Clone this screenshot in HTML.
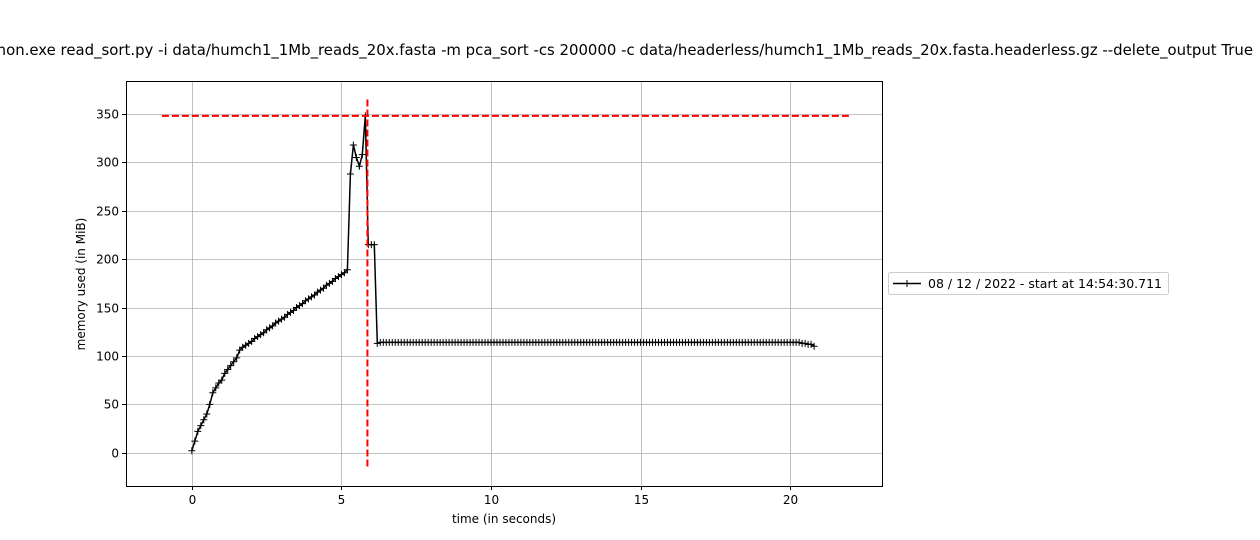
<!DOCTYPE html>
<html><head><meta charset="utf-8"><style>
body{margin:0;background:#fff;}
svg{display:block;font-family:"DejaVu Sans","Liberation Sans",sans-serif;}
</style></head><body>
<svg id="chart" width="1260" height="540" viewBox="0 0 1260 540" xmlns="http://www.w3.org/2000/svg">
<text x="1253" y="55" font-size="14.9" text-anchor="end" fill="#000">python.exe read_sort.py -i data/humch1_1Mb_reads_20x.fasta -m pca_sort -cs 200000 -c data/headerless/humch1_1Mb_reads_20x.fasta.headerless.gz --delete_output True</text>
<g id="grid"></g>
<g id="marks"></g>
<rect x="126.5" y="81.5" width="756" height="405" fill="none" stroke="#000" stroke-width="1"/>
<g id="ticks"></g>
<text x="504" y="523" font-size="12" text-anchor="middle">time (in seconds)</text>
<text transform="translate(85,284) rotate(-90)" font-size="12" text-anchor="middle">memory used (in MiB)</text>
<g>
<rect x="888.5" y="272.5" width="280" height="22" rx="2" fill="#fff" stroke="#ccc"/>
<line x1="893" y1="283.5" x2="921" y2="283.5" stroke="#000" stroke-width="1.5"/>
<line x1="907" y1="280" x2="907" y2="287" stroke="#000" stroke-width="1"/>
<text x="928" y="288" font-size="12.5">08 / 12 / 2022 - start at 14:54:30.711</text>
</g>
</svg>
<script>
const xTicks=[0,5,10,15,20];
const yTicks=[0,50,100,150,200,250,300,350];
const memValues=[2,12,22,28,34,40,50,62,67,72,75,82,86,90,94,98,106,
109,111,113,115,118,120,122,124,127,129,131,134,136,138,140,143,145,147,150,152,154,157,159,161,163,166,168,170,173,175,177,180,182,184,186,189,
288,318,305,296,308,348,215,215,215,113,
114,114,114,114,114,114,114,114,114,114,114,114,114,114,114,114,114,114,114,114,
114,114,114,114,114,114,114,114,114,114,114,114,114,114,114,114,114,114,114,114,
114,114,114,114,114,114,114,114,114,114,114,114,114,114,114,114,114,114,114,114,
114,114,114,114,114,114,114,114,114,114,114,114,114,114,114,114,114,114,114,114,
114,114,114,114,114,114,114,114,114,114,114,114,114,114,114,114,114,114,114,114,
114,114,114,114,114,114,114,114,114,114,114,114,114,114,114,114,114,114,114,114,
114,114,114,114,114,114,114,114,114,114,114,114,114,114,114,114,114,114,114,114,
114,113,113,112,112,110];
const sampleStep=0.1;
const peakMem=348;
const peakTime=5.87;
const hLineRange=[-1,22];
const vLineRange=[-15,365];
const X0=-2.2,X1=23.07,Y0=-34.4,Y1=384.1;
const L=126,R=882,T=81,B=486;
const sx=v=>L+(v-X0)/(X1-X0)*(R-L);
const sy=v=>B-(v-Y0)/(Y1-Y0)*(B-T);
const NS='http://www.w3.org/2000/svg';
function mk(tag,attrs,parent){const e=document.createElementNS(NS,tag);for(const k in attrs)e.setAttribute(k,attrs[k]);parent.appendChild(e);return e;}
const grid=document.getElementById('grid'),ticks=document.getElementById('ticks'),marks=document.getElementById('marks');
xTicks.forEach(t=>{const x=Math.round(sx(t))+0.5;
 const g=mk('line',{x1:x,x2:x,y1:T,y2:B,stroke:'#b0b0b0','stroke-width':0.8},grid);
 
 
 mk('line',{x1:x,x2:x,y1:B,y2:B+4,stroke:'#000'},ticks);
 const tx=mk('text',{x:x,y:B+18,'font-size':12,'text-anchor':'middle'},ticks);tx.textContent=t;
 
 });
yTicks.forEach(t=>{const y=Math.round(sy(t))+0.5;
 const g=mk('line',{x1:L,x2:R,y1:y,y2:y,stroke:'#b0b0b0','stroke-width':0.8},grid);
 
 
 mk('line',{x1:L-4,x2:L,y1:y,y2:y,stroke:'#000'},ticks);
 const tx=mk('text',{x:L-7,y:y+4,'font-size':12,'text-anchor':'end'},ticks);tx.textContent=t;
 
 });
const pts=memValues.map((m,i)=>[sx(i*sampleStep),sy(m)]);
const line=mk('polyline',{points:pts.map(p=>p[0].toFixed(1)+','+p[1].toFixed(1)).join(' '),fill:'none',stroke:'#000','stroke-width':1.5},marks);


pts.forEach(p=>{const d=`M${p[0]-3.5},${p[1]}H${p[0]+3.5}M${p[0]},${p[1]-3.5}V${p[1]+3.5}`;
 const m=mk('path',{d:d,stroke:'#000','stroke-width':1},marks);
 
 });
const h=mk('line',{x1:sx(hLineRange[0]),x2:sx(hLineRange[1]),y1:sy(peakMem),y2:sy(peakMem),stroke:'#ff0000','stroke-width':2,'stroke-dasharray':'7,3'},marks);


const v=mk('line',{x1:sx(peakTime),x2:sx(peakTime),y1:sy(vLineRange[1]),y2:sy(vLineRange[0]),stroke:'#ff0000','stroke-width':2,'stroke-dasharray':'7,3'},marks);


</script>
</body></html>
